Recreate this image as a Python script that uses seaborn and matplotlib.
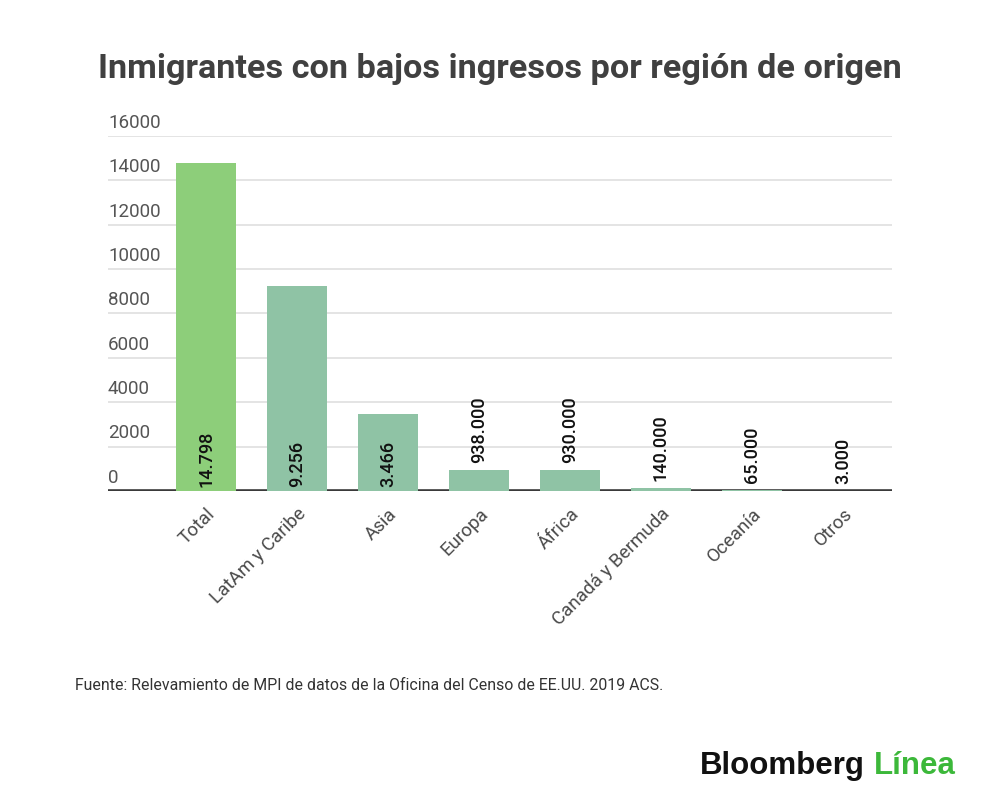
import matplotlib
matplotlib.use("Agg")
import matplotlib.pyplot as plt
import seaborn as sns
import pandas as pd

# data (miles de personas)
regions = ["Total", "LatAm y Caribe", "Asia", "Europa", "África",
           "Canadá y Bermuda", "Oceanía", "Otros"]
values = [14798, 9256, 3466, 938, 930, 140, 65, 3]
value_labels = ["14.798", "9.256", "3.466", "938.000", "930.000",
                "140.000", "65.000", "3.000"]
y_ticks = [0, 2000, 4000, 6000, 8000, 10000, 12000, 14000, 16000]

TOTAL_COLOR = "#8dce7a"
REGION_COLOR = "#8fc3a5"

sns.set_theme(style="white")
plt.rcParams["font.family"] = ["Roboto", "DejaVu Sans"]

df = pd.DataFrame({"region": regions, "value": values})
palette = {r: (TOTAL_COLOR if r == "Total" else REGION_COLOR) for r in regions}

fig = plt.figure(figsize=(10, 8.07), dpi=100)
ax = fig.add_axes([0.108, 0.3916, 0.784, 0.4399])

sns.barplot(data=df, x="region", y="value", hue="region", palette=palette,
            legend=False, width=0.66, saturation=1, linewidth=0,
            ax=ax, zorder=3)

ax.set_xlim(-1.08, 7.54)
ax.set_ylim(0, 16000)
ax.set_yticks(y_ticks)
ax.set_yticklabels([])
ax.tick_params(axis="y", length=0)
ax.set_xlabel("")
ax.set_ylabel("")
for s in ax.spines.values():
    s.set_visible(False)

# grid + tick labels sitting above the lines
for t in y_ticks:
    if t == 0:
        ax.axhline(t, color="#3a3a3a", lw=2.6, zorder=2)
    else:
        ax.axhline(t, color="#dcdcdc", lw=1.1, zorder=0)
    ax.annotate(str(t), xy=(0, t), xycoords=ax.get_yaxis_transform(),
                xytext=(0, 3), textcoords="offset points",
                ha="left", va="bottom", fontsize=13.5, color="#555555")

# value labels
for i, (v, lab) in enumerate(zip(values, value_labels)):
    if v > 2500:
        ax.annotate(lab, xy=(i, 0), xytext=(0, 3), textcoords="offset points",
                    rotation=90, ha="center", va="bottom", fontsize=13,
                    fontweight="medium", color="#111111", zorder=4)
    else:
        ax.annotate(lab, xy=(i, v), xytext=(0, 5), textcoords="offset points",
                    rotation=90, ha="center", va="bottom", fontsize=13,
                    fontweight="medium", color="#111111", zorder=4)

ax.set_xticks(range(len(regions)))
ax.set_xticklabels(regions, rotation=45, ha="right", rotation_mode="anchor",
                   fontsize=13.5, color="#4a4a4a")
ax.tick_params(axis="x", length=0, pad=10)

fig.text(0.5, 0.915, "Inmigrantes con bajos ingresos por región de origen",
         ha="center", va="center", fontsize=24.7, fontweight="bold", color="#404040")

fig.text(0.075, 1 - 686 / 807, "Fuente: Relevamiento de MPI de datos de la Oficina del Censo de EE.UU. 2019 ACS.",
         ha="left", va="center", fontsize=11.4, color="#333333")

fig.text(0.865, 1 - 766 / 807, "Bloomberg", ha="right", va="center",
         fontsize=22.5, fontweight="bold", color="#111111", family="Liberation Sans")
fig.text(0.874, 1 - 766 / 807, "Línea", ha="left", va="center",
         fontsize=22.5, fontweight="bold", color="#3cb83a", family="Liberation Sans")

fig.savefig("out.png", dpi=100, facecolor="white")
